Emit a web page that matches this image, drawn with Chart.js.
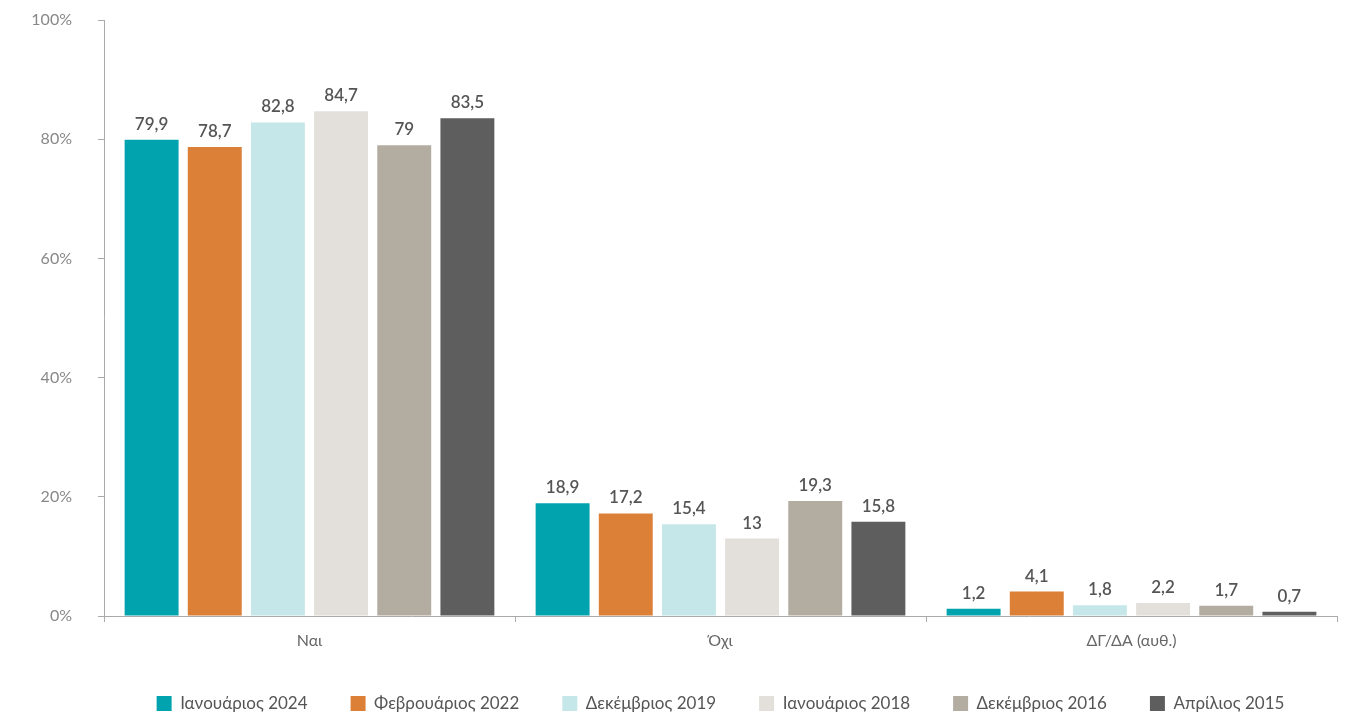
<!DOCTYPE html>
<html>
<head>
<meta charset="utf-8">
<script src="https://cdn.jsdelivr.net/npm/chart.js@4"></script>
<style>
  html, body { margin: 0; padding: 0; background: #fff; }
  #wrap { width: 1361px; height: 722px; }
</style>
</head>
<body>
<div id="wrap"><canvas id="bar-chart"></canvas></div>
<script>
var categories = ['Ναι', 'Όχι', 'ΔΓ/ΔΑ (αυθ.)'];
var seriesNames = ['Ιανουάριος 2024', 'Φεβρουάριος 2022', 'Δεκέμβριος 2019', 'Ιανουάριος 2018', 'Δεκέμβριος 2016', 'Απρίλιος 2015'];
var jan2024 = [79.9, 18.9, 1.2];
var feb2022 = [78.7, 17.2, 4.1];
var dec2019 = [82.8, 15.4, 1.8];
var jan2018 = [84.7, 13, 2.2];
var dec2016 = [79, 19.3, 1.7];
var apr2015 = [83.5, 15.8, 0.7];
var yTicks = [0, 20, 40, 60, 80, 100];

var colors = ['#00a3ae', '#dc7f37', '#c6e7e9', '#e3dfdb', '#b3ada1', '#5e5e5e'];
var values = [jan2024, feb2022, dec2019, jan2018, dec2016, apr2015];

var datasets = [];
for (let i = 0; i < seriesNames.length; i++) {
  datasets.push({
    label: seriesNames[i],
    data: values[i],
    backgroundColor: colors[i],
    borderWidth: 0,
    categoryPercentage: 0.922,
    barPercentage: 0.854
  });
}

// value labels above each bar, comma as decimal separator
var valueLabels = {
  id: 'valueLabels',
  afterDatasetsDraw: function (chart) {
    var ctx = chart.ctx;
    ctx.save();
    ctx.font = '600 17px Lato';
    ctx.fillStyle = '#555555';
    ctx.textAlign = 'center';
    ctx.textBaseline = 'bottom';
    chart.data.datasets.forEach(function (ds, i) {
      chart.getDatasetMeta(i).data.forEach(function (bar, j) {
        var txt = String(ds.data[j]).replace('.', ',');
        ctx.fillText(txt, bar.x, bar.y - 7);
      });
    });
    ctx.restore();
  }
};

new Chart(document.getElementById('bar-chart'), {
  type: 'bar',
  data: { labels: categories, datasets: datasets },
  plugins: [valueLabels],
  options: {
    responsive: true,
    maintainAspectRatio: false,
    animation: false,
    layout: { autoPadding: false, padding: { top: 20, right: 24, left: 0, bottom: 0 } },
    plugins: {
      tooltip: { enabled: false },
      legend: {
        position: 'bottom',
        fullSize: false,
        labels: {
          boxWidth: 15,
          boxHeight: 15,
          padding: 43,
          color: '#555555',
          font: { family: 'Lato', size: 17 }
        }
      }
    },
    scales: {
      x: {
        grid: { drawOnChartArea: false, color: '#aaaaaa', tickLength: 6, offset: true },
        border: { color: '#aaaaaa' },
        ticks: { color: '#666666', padding: 9, font: { family: 'Lato', size: 16 } },
        afterFit: function (scale) { scale.height = 36; }
      },
      y: {
        min: 0,
        max: 100,
        afterBuildTicks: function (scale) {
          scale.ticks = yTicks.map(function (v) { return { value: v }; });
        },
        grid: { drawOnChartArea: false, color: '#aaaaaa', tickLength: 6 },
        border: { color: '#aaaaaa' },
        ticks: {
          color: '#888888',
          padding: 26,
          font: { family: 'Lato', size: 16 },
          callback: function (v) { return v + '%'; }
        },
        afterFit: function (scale) {
          scale.width = 104;
          scale.paddingTop = 0;
          scale.paddingBottom = 0;
        }
      }
    }
  }
});
</script>
</body>
</html>
